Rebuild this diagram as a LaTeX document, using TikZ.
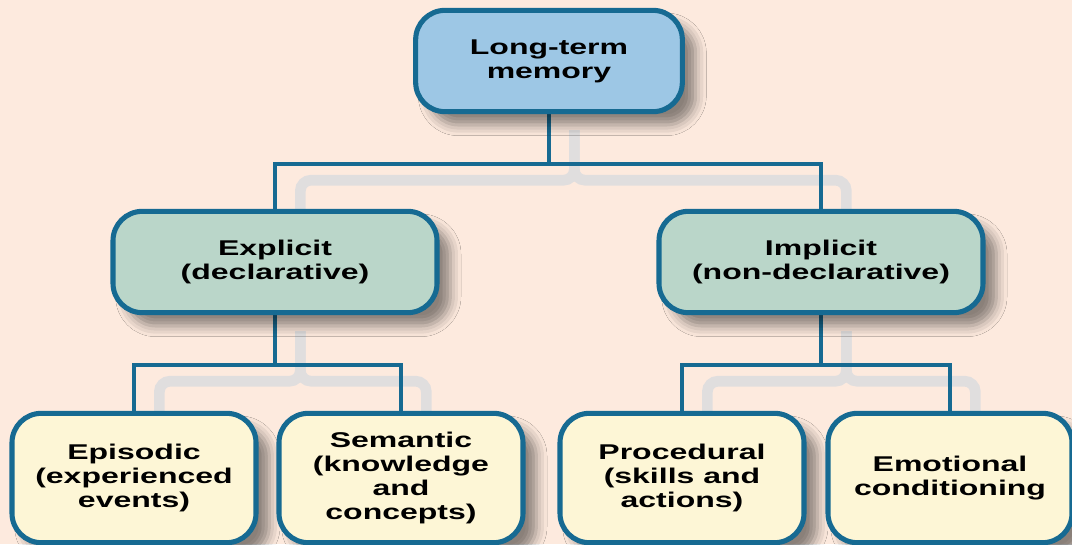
\documentclass[tikz,border=0pt]{standalone}
\usepackage{fontspec}
\setmainfont{Liberation Sans}[FakeStretch=1.5]
\definecolor{peach}{RGB}{253, 234, 222}
\definecolor{memedge}{RGB}{22, 106, 146}
\definecolor{ltmblue}{RGB}{157, 199, 229}
\definecolor{midgreen}{RGB}{186, 214, 201}
\definecolor{leafcream}{RGB}{253, 246, 214}
\definecolor{shadegray}{RGB}{224, 222, 222}
\usetikzlibrary{shadows.blur, backgrounds}
\tikzset{
	memnode/.style={rectangle, rounded corners=22pt, draw=memedge, line width=3.8pt, align=center, inner sep=0pt, font=\bfseries\fontsize{16}{18}\selectfont, blur shadow={shadow xshift=10pt, shadow yshift=-10pt, shadow blur radius=8pt, shadow opacity=45}},
	topbox/.style={memnode, fill=ltmblue, minimum width=200pt, minimum height=76pt},
	midbox/.style={memnode, fill=midgreen, minimum width=243pt, minimum height=76pt},
	leafbox/.style={memnode, fill=leafcream, minimum width=183pt, minimum height=97pt},
	link/.style={draw=memedge, line width=3pt},
	linkshade/.style={draw=shadegray, line width=8pt, rounded corners=8pt, transform canvas={shift={(19pt,-12pt)}}},
}

\begin{document}
\begin{tikzpicture}[x=0.75pt, y=-0.75pt]
		\useasboundingbox (0,0) rectangle (1072,544);
		\node[topbox] (ltm) at (549,61) {Long-term\\memory};
		\node[midbox] (explicit) at (275,262) {Explicit\\(declarative)};
		\node[midbox] (implicit) at (821,262) {Implicit\\(non-declarative)};
		\node[leafbox] (episodic) at (134,478) {Episodic\\(experienced\\events)};
		\node[leafbox] (semantic) at (401,478) {Semantic\\(knowledge\\and\\concepts)};
		\node[leafbox] (procedural) at (682,478) {Procedural\\(skills and\\actions)};
		\node[leafbox] (emotional) at (950,478) {Emotional\\conditioning};
		\begin{scope}[on background layer]
			\fill[peach] (0,0) rectangle (1072,544);
			\draw[linkshade] (ltm.south) -- ++(0,50) -| (explicit.north);
			\draw[linkshade] (ltm.south) -- ++(0,50) -| (implicit.north);
			\draw[linkshade] (explicit.south) -- ++(0,50) -| (episodic.north);
			\draw[linkshade] (explicit.south) -- ++(0,50) -| (semantic.north);
			\draw[linkshade] (implicit.south) -- ++(0,50) -| (procedural.north);
			\draw[linkshade] (implicit.south) -- ++(0,50) -| (emotional.north);
			\draw[link] (ltm.south) -- ++(0,50) -| (explicit.north);
			\draw[link] (ltm.south) -- ++(0,50) -| (implicit.north);
			\draw[link] (explicit.south) -- ++(0,50) -| (episodic.north);
			\draw[link] (explicit.south) -- ++(0,50) -| (semantic.north);
			\draw[link] (implicit.south) -- ++(0,50) -| (procedural.north);
			\draw[link] (implicit.south) -- ++(0,50) -| (emotional.north);
		\end{scope}
	\end{tikzpicture}
\end{document}
